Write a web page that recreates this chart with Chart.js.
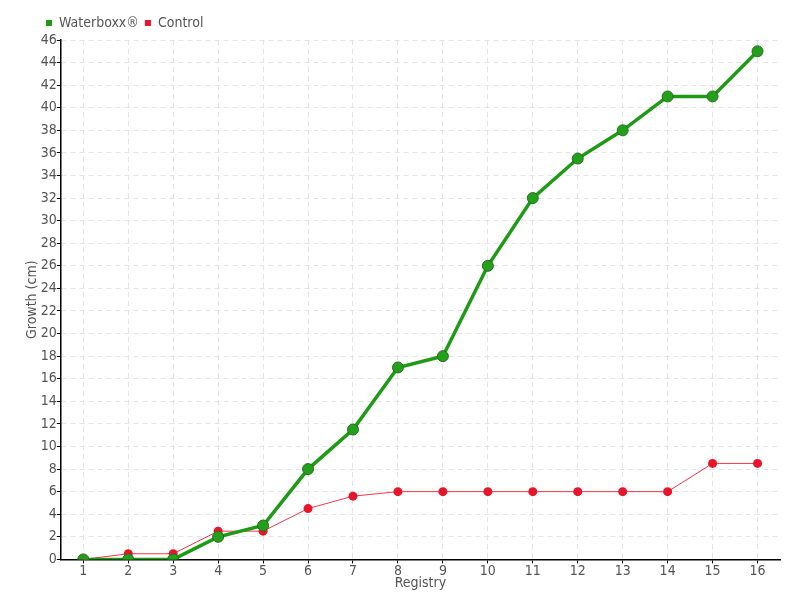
<!DOCTYPE html>
<html>
<head>
<meta charset="utf-8">
<script src="https://cdn.jsdelivr.net/npm/chart.js@4/dist/chart.umd.min.js"></script>
<style>
  html, body { margin: 0; padding: 0; background: #fff; }
  #wrap { width: 800px; height: 600px; }
</style>
</head>
<body>
<div id="wrap"><canvas id="myChart" width="800" height="600"></canvas></div>
<script>
var registry = ['1','2','3','4','5','6','7','8','9','10','11','12','13','14','15','16'];
var waterboxx = [0, 0, 0, 2, 3, 8, 11.5, 17, 18, 26, 32, 35.5, 38, 41, 41, 45];
var control = [0, 0.5, 0.5, 2.5, 2.5, 4.5, 5.6, 6, 6, 6, 6, 6, 6, 6, 8.5, 8.5];

Chart.defaults.font.family = "'DejaVu Sans Condensed', 'Liberation Sans Narrow', sans-serif";
Chart.defaults.font.size = 14;
Chart.defaults.color = '#555';

// push the legend a bit to the right, like the original
var legendShift = {
    id: 'legendShift',
    beforeDraw: function (chart) {
        chart.legend.left = 40;
    }
};

var ctx = document.getElementById('myChart').getContext('2d');
var chart = new Chart(ctx, {
    type: 'line',
    data: {
        labels: registry,
        datasets: [{
            label: 'Waterboxx®',
            data: waterboxx,
            borderColor: '#1f9a14',
            backgroundColor: '#1f9a14',
            borderWidth: 3.5,
            pointRadius: 5.5,
            pointBorderWidth: 1,
            pointBorderColor: '#2a6b22',
            pointBackgroundColor: '#22a01a',
            tension: 0
        }, {
            label: 'Control',
            data: control,
            borderColor: '#f0384a',
            backgroundColor: '#e8142a',
            borderWidth: 1,
            pointRadius: 4.5,
            pointBorderWidth: 0,
            pointBackgroundColor: '#e8142a',
            tension: 0
        }]
    },
    options: {
        responsive: false,
        animation: false,
        layout: { padding: { left: 24, right: 20, top: 10, bottom: 8 } },
        plugins: {
            legend: {
                align: 'start',
                labels: {
                    boxWidth: 6,
                    boxHeight: 6,
                    padding: 6,
                    color: '#555',
                    font: { size: 14 },
                    generateLabels: function (chart) {
                        var items = Chart.defaults.plugins.legend.labels.generateLabels(chart);
                        items.forEach(function (it, i) {
                            it.lineWidth = 0;
                            it.fillStyle = chart.data.datasets[i].backgroundColor;
                        });
                        return items;
                    }
                }
            },
            tooltip: { enabled: false }
        },
        scales: {
            x: {
                offset: true,
                grid: {
                    offset: false,
                    color: '#e4e4e4',
                    tickColor: '#000',
                    tickLength: 4
                },
                border: { color: '#000', width: 1.5, dash: [5, 4] },
                ticks: { padding: 0, color: '#555' },
                title: { display: true, text: 'Registry', padding: { top: -5, bottom: 0 }, color: '#555', font: { size: 14 } }
            },
            y: {
                min: 0,
                max: 46,
                grid: {
                    color: '#e4e4e4',
                    tickColor: '#000',
                    tickLength: 4
                },
                border: { color: '#000', width: 1.5, dash: [5, 4] },
                ticks: { stepSize: 2, padding: 0, color: '#555' },
                title: { display: true, text: 'Growth (cm)', padding: 0, color: '#555', font: { size: 14 } }
            }
        }
    },
    plugins: [legendShift]
});
</script>
</body>
</html>
